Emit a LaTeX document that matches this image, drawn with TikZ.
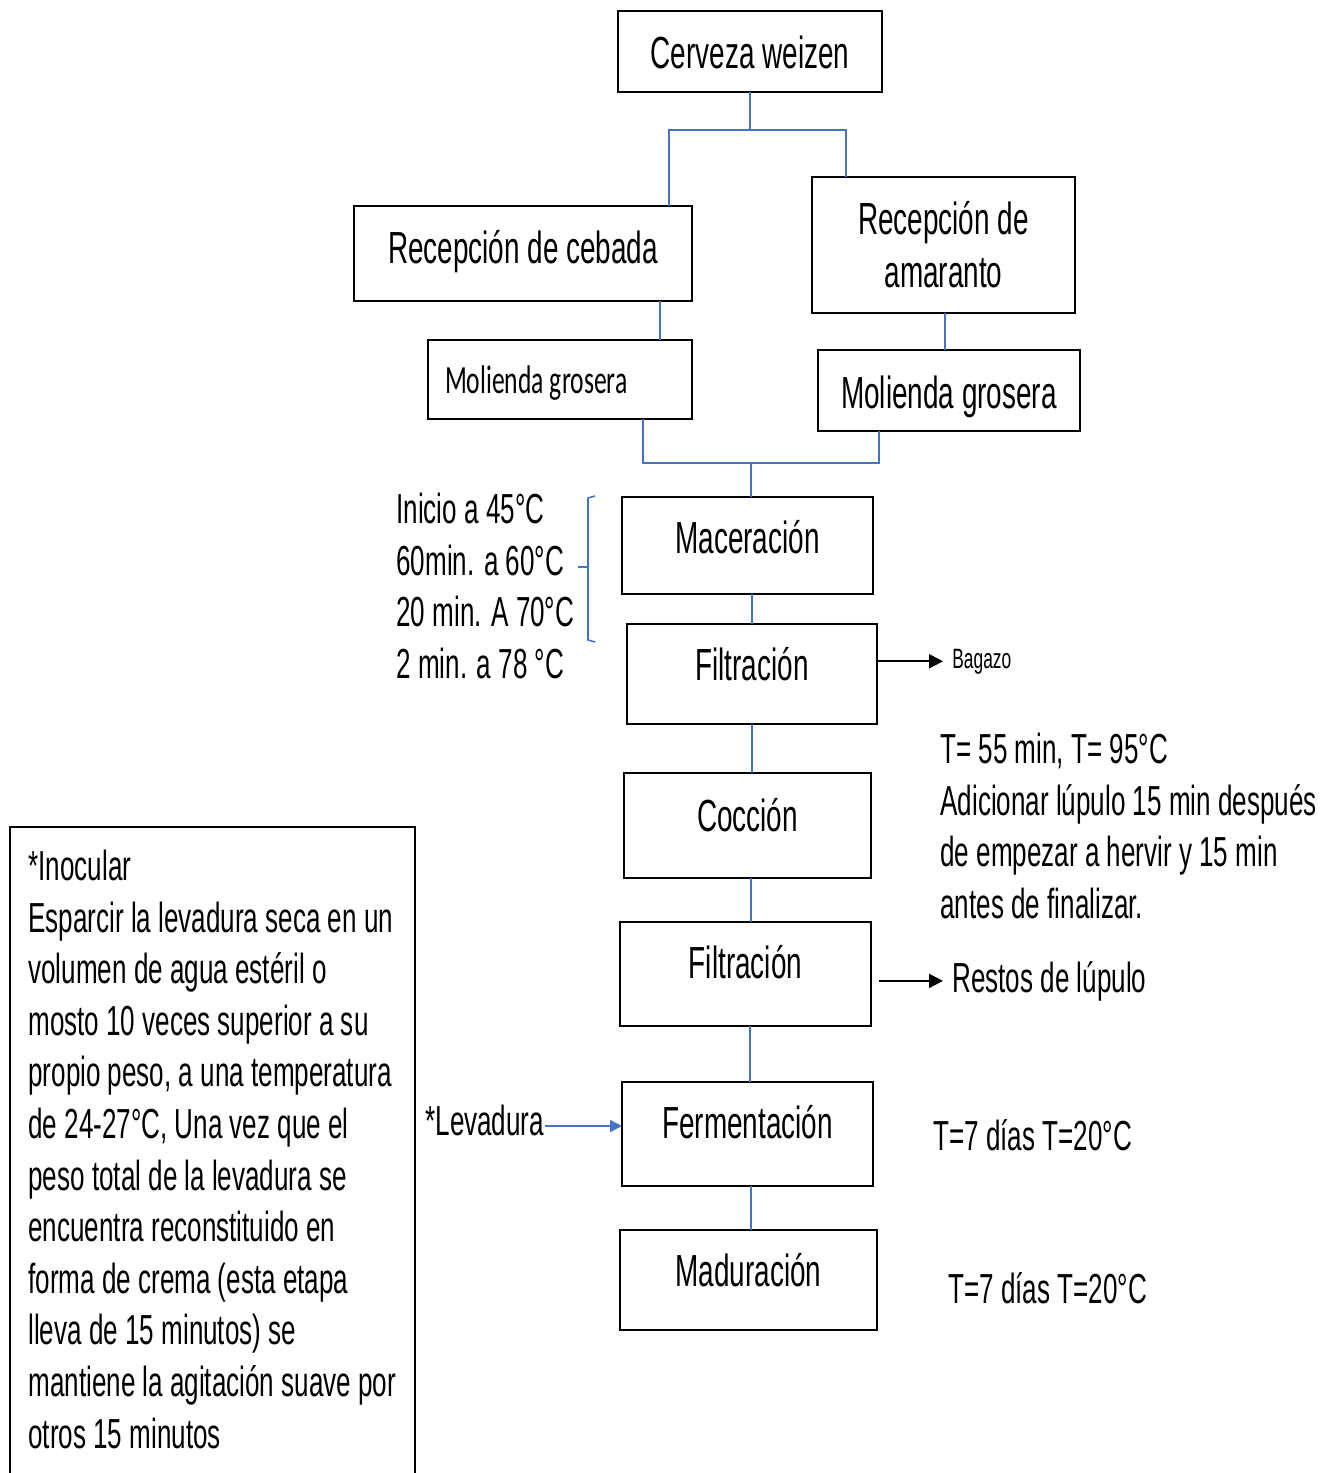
\documentclass[tikz,border=0pt]{standalone}
\usepackage{fontspec}
\setmainfont{Liberation Sans}[FakeStretch=0.62]
\newfontfamily\calib{Carlito}[FakeStretch=0.64]
\usetikzlibrary{arrows.meta}
\definecolor{lineblue}{RGB}{68,114,196}
\newcommand\tstrut{\rule{0pt}{20pt}}
\begin{document}
\begin{tikzpicture}[x=0.5pt,y=-0.5pt,
  box/.style={draw=black,line width=1pt,rectangle,inner sep=0pt,outer sep=0pt,
    font=\fontsize{22.5}{26.5}\selectfont},
  onebox/.style={box,text height=18pt},
  conn/.style={draw=lineblue,line width=0.8pt},
  outarrow/.style={draw=black,line width=1pt,-{Triangle[length=7pt,width=7pt]}},
  note/.style={inner sep=0pt,align=left,font=\fontsize{21}{25.8}\selectfont},
  single/.style={inner sep=0pt,font=\fontsize{21}{25.8}\selectfont},
]
\useasboundingbox (0,0) rectangle (1332,1473);

% boxes
\node[onebox,minimum width=132pt,minimum height=40.5pt,text depth=1.5pt] (cerveza) at (750,51.5) {Cerveza weizen};
\node[onebox,minimum width=169pt,minimum height=47.5pt,text depth=8.5pt] (cebada) at (523,253.5) {Recepción de cebada};
\node[box,minimum width=131.5pt,minimum height=68pt,align=center] (amaranto) at (943.5,245) {Recepción de\\amaranto};
\node[onebox,minimum width=132pt,minimum height=39.5pt,text width=115pt,align=left,
  font=\calib\fontsize{20}{24}\selectfont,text depth=4.5pt] (mol1) at (560,379.5) {Molienda\hspace{3pt}grosera};
\node[onebox,minimum width=131pt,minimum height=40.5pt,text depth=0.5pt] (mol2) at (949,390.5) {Molienda grosera};
\node[onebox,minimum width=125.5pt,minimum height=48.5pt,text depth=10.5pt] (mac) at (747.5,545.5) {Maceración};
\node[onebox,minimum width=125pt,minimum height=50pt,text depth=12pt] (fil1) at (752,674) {Filtración};
\node[onebox,minimum width=123.5pt,minimum height=52.5pt,text depth=12.5pt] (coc) at (747.5,825.5) {Cocción};
\node[onebox,minimum width=125.5pt,minimum height=52pt,text depth=14pt] (fil2) at (745.5,974) {Filtración};
\node[onebox,minimum width=125.5pt,minimum height=52pt,text depth=14pt] (fer) at (747.5,1134) {Fermentación};
\node[onebox,minimum width=128.5pt,minimum height=50pt,text depth=12pt] (mad) at (748.5,1280) {Maduración};

% notes
\node[note,anchor=north west] (macnote) at (396,483) {\tstrut Inicio a 45°C\\60min. a 60°C\\20 min. A 70°C\\2 min. a 78 °C};
\node[note,anchor=north west] (cocnote) at (940,723) {\tstrut T= 55 min, T= 95°C\\Adicionar lúpulo 15 min después\\de empezar a hervir y 15 min\\antes de finalizar.};
\node[note,anchor=north west] (inoc) at (28,840) {\tstrut *Inocular\\Esparcir la levadura seca en un\\volumen de agua estéril o\\mosto 10 veces superior a su\\propio peso, a una temperatura\\de 24-27°C, Una vez que el\\peso total de la levadura se\\encuentra reconstituido en\\forma de crema (esta etapa\\lleva de 15 minutos) se\\mantiene la agitación suave por\\otros 15 minutos};
\draw[line width=1pt] (10,1500) -- (10,827) -- (415,827) -- (415,1500);

\node[single,anchor=base west] (levadura) at (425,1135) {*Levadura};
\node[single,anchor=base west] (ferT) at (933,1150) {T=7 días T=20°C};
\node[single,anchor=base west] (madT) at (948,1303) {T=7 días T=20°C};
\node[single,anchor=base west] (restos) at (952,992) {Restos de lúpulo};
\node[inner sep=0pt,anchor=base west,font=\fontsize{14}{17}\selectfont] (bagazo) at (952,668) {Bagazo};

% blue connectors
\coordinate (jtopL) at (669,130);
\coordinate (jtopR) at (846,130);
\draw[conn] (cerveza.south) -- (cerveza.south |- jtopL);
\draw[conn] (jtopL |- cebada.north) -- (jtopL) -- (jtopR) -- (jtopR |- amaranto.north);
\coordinate (c1) at (660,0);
\draw[conn] (c1 |- cebada.south) -- (c1 |- mol1.north);
\coordinate (c2) at (945,0);
\draw[conn] (c2 |- amaranto.south) -- (c2 |- mol2.north);
\coordinate (jbotL) at (643,463);
\coordinate (jbotR) at (879,463);
\coordinate (jbot) at (751,463);
\draw[conn] (jbotL |- mol1.south) -- (jbotL) -- (jbotR) -- (jbotR |- mol2.south);
\draw[conn] (jbot) -- (jbot |- mac.north);
\coordinate (a1) at (752,0);
\draw[conn] (a1 |- mac.south) -- (a1 |- fil1.north);
\draw[conn] (a1 |- fil1.south) -- (a1 |- coc.north);
\coordinate (a2) at (751,0);
\draw[conn] (a2 |- coc.south) -- (a2 |- fil2.north);
\coordinate (a3) at (750,0);
\draw[conn] (a3 |- fil2.south) -- (a3 |- fer.north);
\draw[conn] (a2 |- fer.south) -- (a2 |- mad.north);

% bracket
\draw[conn] (595,496) -- (588,498) -- (588,640) -- (595,642);
\draw[conn] (578,567) -- (588,567);

% levadura arrow
\coordinate (levy) at (0,1126);
\draw[conn,-{Triangle[length=6pt,width=6pt]}] (levadura.base east |- levy) -- (fer.west |- levy);

% output arrows
\draw[outarrow,shorten >=4.5pt] (fil1.east |- bagazo) -- (bagazo.west);
\draw[outarrow,shorten <=4pt,shorten >=4.5pt] (fil2.east |- restos) -- (restos.west);
\end{tikzpicture}
\end{document}
